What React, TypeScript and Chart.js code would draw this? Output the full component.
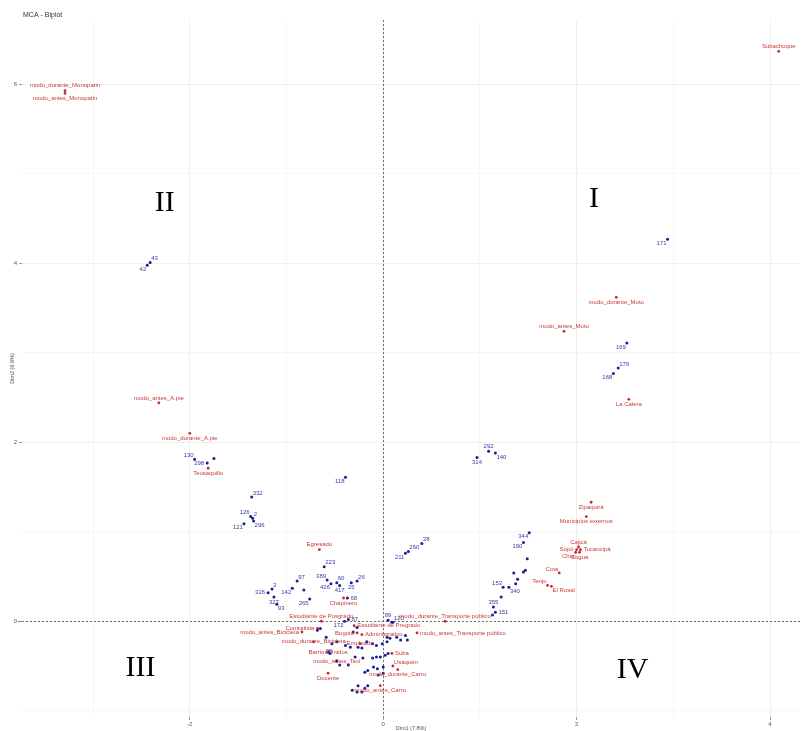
import React, { useEffect, useRef } from 'react';
import { Chart, registerables } from 'chart.js';

Chart.register(...registerables);

const chartTitle = 'MCA - Biplot';
const xAxisTitle = 'Dim1 (7.8%)';
const yAxisTitle = 'Dim2 (6.9%)';

const xRange = [-3.735, 4.31];
const yRange = [-1.07, 6.72];
const xTickLabels = [-2, 0, 2, 4];
const yTickLabels = [0, 2, 4, 6];

// Individuals (blue)
const indLabels = [
  '43', '42', '130', '', '298', '332', '126', '2', '296', '121',
  '118', '292', '314', '140', '28', '260', '211', '223', '389', '426',
  '60', '417', '25', '26', '97', '3', '326', '327', '93', '142',
  '', '265', '68', '172', '87', '89', '120', '171', '169', '179',
  '168', '344', '190', '153', '340', '355', '151', '', '', '',
  '', '', '', '', '', '', '', '', '', '',
  '', '', '', '', '', '', '', '', '', '',
  '', '', '', '', '', '', '', '', '', '',
  '', '', '', '', '', '', '', '', '', '',
  '', '', '', '', '', '', '', '', '', '',
  '', '', '88',
];
const indX = [
  -2.41, -2.44, -1.95, -1.75, -1.82, -1.36, -1.37, -1.35, -1.34, -1.44,
  -0.39, 1.09, 0.97, 1.16, 0.40, 0.26, 0.23, -0.61, -0.58, -0.54,
  -0.48, -0.45, -0.33, -0.27, -0.89, -1.15, -1.19, -1.13, -1.10, -0.94,
  -0.82, -0.76, -0.37, -0.40, -0.36, 0.05, 0.10, 2.94, 2.52, 2.43,
  2.38, 1.51, 1.45, 1.24, 1.30, 1.14, 1.16, 1.22, 1.35, 1.45,
  1.47, 1.39, 1.37, 1.49, 1.13, -0.65, -0.68, -0.59, -0.53, -0.48,
  -0.39, -0.34, -0.26, -0.22, -0.17, -0.11, -0.07, -0.01, 0.04, 0.07,
  0.14, 0.18, 0.25, 0.23, 0.04, 0.09, -0.29, -0.21, -0.11, -0.07,
  -0.03, 0.02, 0.05, -0.10, -0.06, 0.00, -0.19, -0.16, -0.05, 0.00,
  -0.26, -0.19, -0.16, -0.32, -0.27, -0.22, -0.36, -0.45, -0.48, -0.55,
  -0.31, -0.27, -0.56,
];
const indY = [
  4.01, 3.98, 1.81, 1.82, 1.77, 1.39, 1.17, 1.15, 1.12, 1.09,
  1.61, 1.90, 1.83, 1.88, 0.87, 0.78, 0.76, 0.61, 0.46, 0.42,
  0.43, 0.40, 0.43, 0.45, 0.45, 0.36, 0.32, 0.27, 0.19, 0.37,
  0.35, 0.25, 0.26, 0.00, 0.02, 0.01, -0.01, 4.27, 3.11, 2.83,
  2.77, 0.99, 0.88, 0.38, 0.38, 0.16, 0.10, 0.27, 0.54, 0.55,
  0.57, 0.47, 0.42, 0.70, 0.07, -0.08, -0.10, -0.18, -0.25, -0.23,
  -0.27, -0.29, -0.29, -0.30, -0.23, -0.25, -0.27, -0.25, -0.23, -0.19,
  -0.18, -0.21, -0.21, -0.16, -0.18, -0.01, -0.40, -0.41, -0.41, -0.40,
  -0.40, -0.38, -0.36, -0.51, -0.53, -0.51, -0.57, -0.55, -0.60, -0.58,
  -0.72, -0.75, -0.72, -0.77, -0.79, -0.79, -0.49, -0.49, -0.44, -0.36,
  -0.12, -0.07, -0.34,
];

// Categories (red)
const catLabels = [
  'Subachoque', 'modo_durante_Monopatin', 'modo_antes_Monopatin', 'modo_antes_A.pie', 'modo_durante_A.pie',
  'Teusaquillo', 'modo_durante_Moto', 'modo_antes_Moto', 'La Calera', 'Zipaquirá',
  'Municipios externos', 'Cajicá', 'Sopó', 'Tocancipá', 'Chía',
  'Cogua', 'Cota', 'Tenjo', 'El Rosal', 'Egresado',
  'Chapinero', 'Estudiante de Posgrado', 'Contratista', 'modo_antes_Bicicleta', 'Bogotá',
  'Administrativo', 'Estudiante de Pregrado', 'modo_durante_Bicicleta', 'Empleado', 'Barrios Unidos',
  'Suba', 'modo_antes_Taxi', 'Usaquén', 'modo_durante_Carro', 'Docente',
  'modo_antes_Carro', 'modo_durante_Transporte público', 'modo_antes_Transporte público',
];
const catX = [
  4.09, -3.29, -3.29, -2.32, -2.00,
  -1.81, 2.41, 1.87, 2.54, 2.15,
  2.10, 2.02, 2.00, 2.04, 1.99,
  2.03, 1.82, 1.70, 1.74, -0.66,
  -0.41, -0.64, -0.68, -0.84, -0.27,
  -0.22, -0.30, -0.72, -0.24, -0.57,
  0.09, -0.48, 0.10, 0.15, -0.57,
  -0.03, 0.64, 0.35,
];
const catY = [
  6.37, 5.93, 5.90, 2.44, 2.10,
  1.71, 3.62, 3.24, 2.48, 1.33,
  1.17, 0.83, 0.80, 0.80, 0.77,
  0.77, 0.54, 0.40, 0.39, 0.80,
  0.26, 0.00, -0.08, -0.12, -0.13,
  -0.15, -0.05, -0.23, -0.25, -0.35,
  -0.36, -0.45, -0.50, -0.54, -0.58,
  -0.72, 0.00, -0.13,
];

// Quadrant annotations
const quadrantLabels = ['I', 'II', 'III', 'IV'];
const quadrantX = [2.18, -2.26, -2.51, 2.58];
const quadrantY = [4.72, 4.67, -0.52, -0.55];

// label placement relative to its point (layout only)
const labelPlacement: Record<string, string> = {
  '43': 'ar', '42': 'bl', '130': 'al', '298': 'l', '332': 'ar', '126': 'al', '2': 'ar', '296': 'br', '121': 'bl',
  '118': 'bl', '292': 'a', '314': 'b', '140': 'br', '28': 'ar', '260': 'ar', '211': 'bl', '223': 'ar', '389': 'al',
  '426': 'bl', '60': 'ar', '417': 'b', '25': 'b', '26': 'ar', '97': 'ar', '3': 'ar', '326': 'l', '327': 'b',
  '93': 'br', '142': 'bl', '265': 'bl', '68': 'r', '172': 'bl', '87': 'r', '89': 'a', '120': 'ar', '171': 'bl',
  '169': 'bl', '179': 'ar', '168': 'bl', '344': 'bl', '190': 'bl', '153': 'al', '340': 'br', '355': 'a', '151': 'r',
  '88': 'c',
  'Subachoque': 'a', 'modo_durante_Monopatin': 'a', 'modo_antes_Monopatin': 'b', 'modo_antes_A.pie': 'a',
  'modo_durante_A.pie': 'b', 'Teusaquillo': 'b', 'modo_durante_Moto': 'b', 'modo_antes_Moto': 'a', 'La Calera': 'b',
  'Zipaquirá': 'b', 'Municipios externos': 'b', 'Cajicá': 'a', 'Sopó': 'l', 'Tocancipá': 'r', 'Chía': 'bl',
  'Cogua': 'b', 'Cota': 'al', 'Tenjo': 'al', 'El Rosal': 'br', 'Egresado': 'a', 'Chapinero': 'b',
  'Estudiante de Posgrado': 'a', 'Contratista': 'l', 'modo_antes_Bicicleta': 'l', 'Bogotá': 'l',
  'Administrativo': 'r', 'Estudiante de Pregrado': 'r', 'modo_durante_Bicicleta': 'c', 'Empleado': 'c',
  'Barrios Unidos': 'c', 'Suba': 'r', 'modo_antes_Taxi': 'c', 'Usaquén': 'ar', 'modo_durante_Carro': 'b',
  'Docente': 'b', 'modo_antes_Carro': 'b', 'modo_durante_Transporte público': 'a', 'modo_antes_Transporte público': 'r',
};

const SANS = '"Liberation Sans", Arial, sans-serif';
const SERIF = '"Liberation Serif", "Times New Roman", serif';
const IND_POINT = '#1d1d90';
const IND_TEXT = '#3b3ba6';
const CAT_POINT = '#c22a2a';
const CAT_TEXT = '#c53a3a';

function drawLabel(ctx: CanvasRenderingContext2D, text: string, px: number, py: number, pos: string) {
  let x = px;
  let y = py;
  let align: CanvasTextAlign = 'center';
  switch (pos) {
    case 'a': y = py - 5; break;
    case 'b': y = py + 5; break;
    case 'l': x = px - 3; align = 'right'; break;
    case 'r': x = px + 3; align = 'left'; break;
    case 'al': x = px - 1; y = py - 4; align = 'right'; break;
    case 'ar': x = px + 1; y = py - 4; align = 'left'; break;
    case 'bl': x = px - 1; y = py + 4; align = 'right'; break;
    case 'br': x = px + 1; y = py + 4; align = 'left'; break;
    default: break;
  }
  ctx.textAlign = align;
  ctx.fillText(text, x, y);
}

const biplotPlugin = {
  id: 'biplot',
  beforeDatasetsDraw(chart: any) {
    const { ctx, chartArea, scales } = chart;
    const x0 = Math.round(scales.x.getPixelForValue(0)) + 0.5;
    const y0 = Math.round(scales.y.getPixelForValue(0)) + 0.5;
    ctx.save();
    ctx.strokeStyle = '#6f6f6f';
    ctx.lineWidth = 1;
    ctx.setLineDash([2, 2]);
    ctx.beginPath();
    ctx.moveTo(x0, chartArea.top);
    ctx.lineTo(x0, chartArea.bottom);
    ctx.moveTo(chartArea.left - 4, y0);
    ctx.lineTo(chartArea.right, y0);
    ctx.stroke();
    ctx.restore();
  },
  afterDatasetsDraw(chart: any) {
    const { ctx, scales } = chart;
    ctx.save();
    ctx.font = `6px ${SANS}`;
    ctx.textBaseline = 'middle';
    const ind = chart.getDatasetMeta(0).data;
    ctx.fillStyle = IND_TEXT;
    indLabels.forEach((t, i) => {
      if (!t) return;
      drawLabel(ctx, t, ind[i].x, ind[i].y, labelPlacement[t] || 'a');
    });
    const cat = chart.getDatasetMeta(1).data;
    ctx.fillStyle = CAT_TEXT;
    catLabels.forEach((t, i) => {
      drawLabel(ctx, t, cat[i].x, cat[i].y, labelPlacement[t] || 'a');
    });
    ctx.fillStyle = '#000';
    ctx.font = `30px ${SERIF}`;
    ctx.textAlign = 'center';
    quadrantLabels.forEach((q, i) => {
      ctx.fillText(q, scales.x.getPixelForValue(quadrantX[i]), scales.y.getPixelForValue(quadrantY[i]));
    });
    ctx.restore();
  },
  afterDraw(chart: any) {
    const { ctx, chartArea } = chart;
    ctx.save();
    ctx.fillStyle = '#333';
    ctx.font = `7px ${SANS}`;
    ctx.textAlign = 'left';
    ctx.textBaseline = 'middle';
    ctx.fillText(chartTitle, 23, 15);
    ctx.fillStyle = '#555';
    ctx.font = `5.5px ${SANS}`;
    ctx.textAlign = 'center';
    ctx.fillText(xAxisTitle, (chartArea.left + chartArea.right) / 2, 728);
    ctx.translate(12, (chartArea.top + chartArea.bottom) / 2);
    ctx.rotate(-Math.PI / 2);
    ctx.fillText(yAxisTitle, 0, 0);
    ctx.restore();
  },
};

export default function App() {
  const ref = useRef<HTMLCanvasElement | null>(null);
  useEffect(() => {
    document.body.style.margin = '0';
    const canvas = ref.current;
    if (!canvas) return;
    const chart = new Chart(canvas, {
      type: 'scatter',
      data: {
        datasets: [
          {
            label: 'Individuos',
            data: indX.map((x, i) => ({ x, y: indY[i] })),
            pointRadius: 1.5,
            pointBackgroundColor: IND_POINT,
            pointBorderWidth: 0,
            pointHoverRadius: 1.5,
          },
          {
            label: 'Categorías',
            data: catX.map((x, i) => ({ x, y: catY[i] })),
            pointRadius: 1.4,
            pointBackgroundColor: CAT_POINT,
            pointBorderWidth: 0,
            pointHoverRadius: 1.4,
          },
        ],
      },
      options: {
        responsive: false,
        animation: false,
        events: [],
        layout: { padding: { top: 20, right: 5, left: 0, bottom: 0 } },
        plugins: {
          legend: { display: false },
          tooltip: { enabled: false },
          title: { display: false },
        },
        scales: {
          x: {
            type: 'linear',
            min: xRange[0],
            max: xRange[1],
            border: { display: false },
            grid: {
              color: (c: any) => (xTickLabels.includes(c.tick?.value) ? '#efefef' : '#f6f6f6'),
              tickColor: (c: any) => (xTickLabels.includes(c.tick?.value) ? '#999' : 'rgba(0,0,0,0)'),
              tickLength: 3,
            },
            ticks: {
              stepSize: 1,
              includeBounds: false,
              autoSkip: false,
              maxRotation: 0,
              padding: 1,
              color: '#555',
              font: { size: 6, family: SANS },
              callback: (v: any) => (xTickLabels.includes(Number(v)) ? String(v) : ''),
            },
            afterFit: (s: any) => { s.height = 14; },
          },
          y: {
            type: 'linear',
            min: yRange[0],
            max: yRange[1],
            border: { display: false },
            grid: {
              color: (c: any) => (yTickLabels.includes(c.tick?.value) ? '#efefef' : '#f6f6f6'),
              tickColor: (c: any) => (yTickLabels.includes(c.tick?.value) ? '#999' : 'rgba(0,0,0,0)'),
              tickLength: 3,
            },
            ticks: {
              stepSize: 1,
              includeBounds: false,
              autoSkip: false,
              padding: 2,
              color: '#555',
              font: { size: 6, family: SANS },
              callback: (v: any) => (yTickLabels.includes(Number(v)) ? String(v) : ''),
            },
            afterFit: (s: any) => { s.width = 22; },
          },
        },
      },
      plugins: [biplotPlugin],
    } as any);
    return () => chart.destroy();
  }, []);
  return (
    <div style={{ position: 'fixed', left: 0, top: 0, width: 805, height: 731, background: '#fff' }}>
      <canvas ref={ref} width={805} height={731} style={{ display: 'block', width: 805, height: 731 }} />
    </div>
  );
}
